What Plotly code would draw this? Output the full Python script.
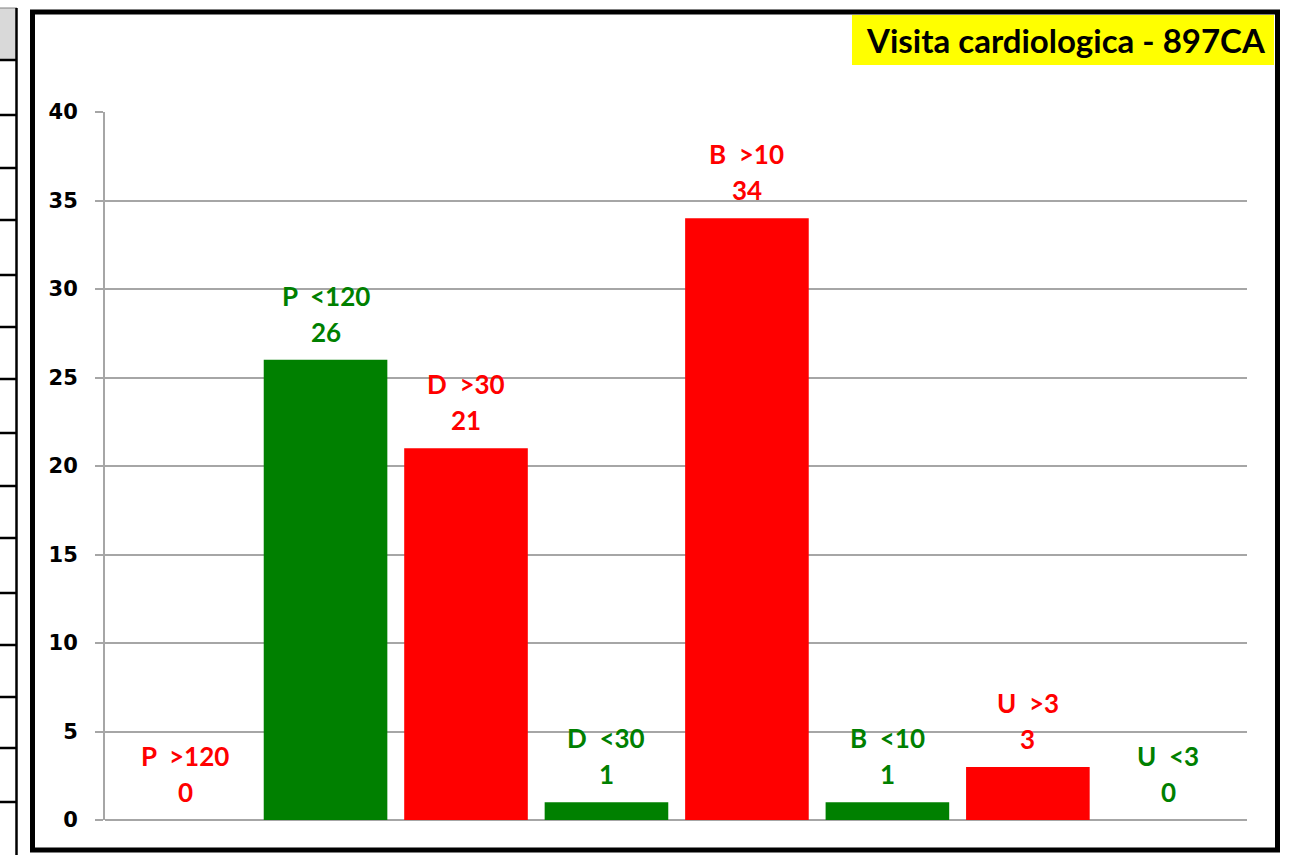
import plotly.graph_objects as go

# ---- data ----
categories = ["P  >120", "P  <120", "D  >30", "D  <30", "B  >10", "B  <10", "U  >3", "U  <3"]
values = [0, 26, 21, 1, 34, 1, 3, 0]
bar_colors = ["#FF0000", "#008000", "#FF0000", "#008000", "#FF0000", "#008000", "#FF0000", "#008000"]
y_ticks = [0, 5, 10, 15, 20, 25, 30, 35, 40]
title_text = "Visita cardiologica - 897CA"

W, H = 1308, 855
L, R, T, B = 105, 61, 112, 35
PW, PH = W - L - R, H - T - B


def px_x(px):
    return (px - L) / PW


def px_y(py):
    return (H - B - py) / PH


fig = go.Figure()
fig.add_trace(go.Bar(
    x=categories, y=values, marker=dict(color=bar_colors, line=dict(width=0)),
    width=0.88, hoverinfo="skip", showlegend=False,
))

label_font = "Lato, 'Open Sans', sans-serif"
annotations = []
for c, v, col in zip(categories, values, bar_colors):
    annotations.append(dict(x=c, y=v, xref="x", yref="y", text=f"<b>{c}</b>", showarrow=False,
                            font=dict(family=label_font, size=26, color=col),
                            yanchor="middle", yshift=64))
    annotations.append(dict(x=c, y=v, xref="x", yref="y", text=f"<b>{v}</b>", showarrow=False,
                            font=dict(family=label_font, size=26, color=col),
                            yanchor="middle", yshift=28))

# title
annotations.append(dict(x=px_x(1066), y=px_y(40), xref="paper", yref="paper",
                        text=f"<b>{title_text}</b>", showarrow=False,
                        font=dict(family=label_font, size=33, color="black"),
                        xanchor="center", yanchor="middle"))

shapes = []
# left table fragment
shapes.append(dict(type="rect", xref="paper", yref="paper", x0=px_x(-5), x1=px_x(17), y0=px_y(60), y1=px_y(8),
                   fillcolor="#D9D9D9", line=dict(width=0), layer="below"))
shapes.append(dict(type="line", xref="paper", yref="paper", x0=px_x(-5), x1=px_x(17), y0=px_y(8), y1=px_y(8),
                   line=dict(color="#808080", width=1)))
for yy in [60, 115, 168, 220, 275, 327, 379, 433, 486, 538, 593, 645, 697, 748, 802]:
    shapes.append(dict(type="line", xref="paper", yref="paper", x0=px_x(-5), x1=px_x(17), y0=px_y(yy), y1=px_y(yy),
                       line=dict(color="black", width=2.5)))
shapes.append(dict(type="line", xref="paper", yref="paper", x0=px_x(16.5), x1=px_x(16.5), y0=px_y(8), y1=px_y(860),
                   line=dict(color="black", width=2.5)))
# chart frame
shapes.append(dict(type="rect", xref="paper", yref="paper", x0=px_x(32.5), x1=px_x(1277.5), y0=px_y(850), y1=px_y(12),
                   line=dict(color="black", width=5), fillcolor="rgba(0,0,0,0)"))
# title box
shapes.append(dict(type="rect", xref="paper", yref="paper", x0=px_x(852), x1=px_x(1274), y0=px_y(65), y1=px_y(15),
                   fillcolor="#FFFF00", line=dict(width=0), layer="below"))

fig.update_layout(
    width=W, height=H,
    margin=dict(l=L, r=R, t=T, b=B, pad=0),
    paper_bgcolor="white", plot_bgcolor="white",
    annotations=annotations, shapes=shapes,
    showlegend=False,
    xaxis=dict(type="category", range=[-0.57, 7.56], showticklabels=False, showgrid=False,
               zeroline=False, showline=False, ticks="", fixedrange=True),
    yaxis=dict(range=[0, 40], tickvals=y_ticks, ticktext=[str(t) for t in y_ticks],
               showgrid=True, gridcolor="#A6A6A6", gridwidth=2,
               zeroline=True, zerolinecolor="#A6A6A6", zerolinewidth=2,
               showline=True, linecolor="#A6A6A6", linewidth=2,
               ticks="outside", ticklen=8, tickcolor="#A6A6A6", tickwidth=2,
               ticklabelstandoff=13, fixedrange=True,
               tickfont=dict(family="'DejaVu Sans', Verdana, sans-serif", size=21, color="black", weight="bold")),
)

fig.write_html("out.html", config={"displayModeBar": False, "staticPlot": True},
               post_script="document.body.style.margin='0';document.body.style.overflow='hidden';")
